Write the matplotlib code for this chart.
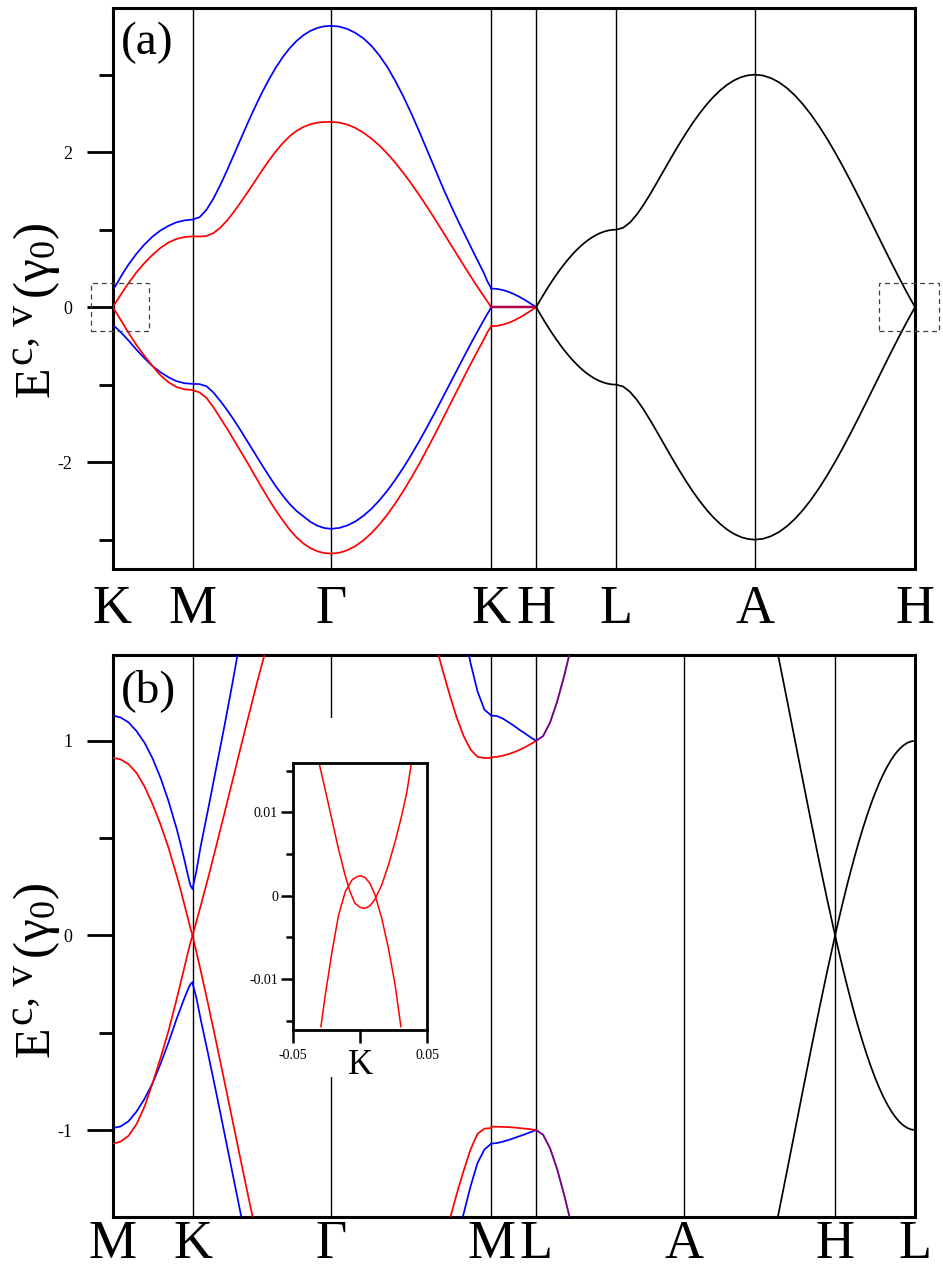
import numpy as np
import matplotlib
matplotlib.use("Agg")
import matplotlib.pyplot as plt
from matplotlib.patches import Rectangle

plt.rcParams['font.family'] = ['Liberation Serif', 'DejaVu Serif']
plt.rcParams['mathtext.fontset'] = 'custom'
plt.rcParams['mathtext.rm'] = 'Liberation Serif'
plt.rcParams['mathtext.it'] = 'Liberation Serif:italic'
plt.rcParams['axes.unicode_minus'] = False

# ---------------- high-symmetry points ----------------
labels_a = ['K', 'M', 'Γ', 'K', 'H', 'L', 'A', 'H']
pos_a = [0.0, 0.5, 1.366, 2.366, 2.646, 3.146, 4.012, 5.012]
labels_b = ['M', 'K', 'Γ', 'M', 'L', 'A', 'H', 'L']
pos_b = [0.0, 0.5, 1.366, 2.366, 2.646, 3.57, 4.513, 5.012]
len_km, len_mg, len_gk, len_kh = 0.5, 0.866, 1.0, 0.28

# ---------------- kz = 0 bands (units of gamma0) ----------------
# K -> M  (fraction from K)
u_km = [0, .025, .05, .1, .15, .2, .3, .4, .5, .6, .7, .8, .9, 1.0]
km_bu = [.24, .255, .295, .385, .47, .55, .69, .81, .91, .99, 1.05, 1.095, 1.12, 1.13]
km_ru = [0, .035, .075, .155, .235, .31, .45, .57, .675, .765, .835, .88, .905, .913]
km_bl = [-.24, -.25, -.27, -.32, -.375, -.43, -.55, -.66, -.76, -.84, -.905, -.955, -.982, -.99]
km_rl = [0, -.035, -.075, -.16, -.245, -.33, -.49, -.63, -.76, -.88, -.97, -1.03, -1.06, -1.07]

# M -> Gamma (fraction from M)
s_mg = [0, .05, .1, .15, .2, .25, .3, .35, .4, .45, .5, .55, .6, .65, .7, .75, .8, .85, .9, .95, 1.0]
mg_bu = [1.13, 1.16, 1.255, 1.4, 1.575, 1.77, 1.975, 2.18, 2.385, 2.58, 2.765, 2.935, 3.09, 3.225, 3.34, 3.435, 3.51, 3.565, 3.603, 3.624, 3.63]
mg_ru = [.913, .911, .918, .955, 1.025, 1.12, 1.235, 1.36, 1.49, 1.625, 1.76, 1.89, 2.01, 2.115, 2.205, 2.275, 2.325, 2.36, 2.38, 2.389, 2.39]
mg_bl = [-.99, -.993, -1.02, -1.1, -1.21, -1.33, -1.46, -1.6, -1.745, -1.89, -2.035, -2.175, -2.31, -2.43, -2.54, -2.63, -2.7, -2.77, -2.82, -2.85, -2.86]
mg_rl = [-1.07, -1.1, -1.17, -1.29, -1.43, -1.57, -1.72, -1.87, -2.02, -2.175, -2.33, -2.48, -2.62, -2.75, -2.87, -2.97, -3.05, -3.11, -3.15, -3.173, -3.18]

# Gamma -> K (fraction from Gamma)
t_gk = [0, .05, .1, .15, .2, .25, .3, .35, .4, .45, .5, .55, .6, .65, .7, .75, .8, .85, .9, .95, .975, 1.0]
gk_bu = [3.63, 3.62, 3.59, 3.54, 3.47, 3.375, 3.25, 3.1, 2.92, 2.72, 2.5, 2.265, 2.02, 1.775, 1.53, 1.3, 1.08, .87, .66, .455, .335, .24]
gk_ru = [2.39, 2.382, 2.356, 2.313, 2.253, 2.177, 2.087, 1.982, 1.864, 1.734, 1.594, 1.445, 1.29, 1.128, .964, .797, .63, .466, .304, .149, .074, 0]
gk_bl = [-2.86, -2.849, -2.817, -2.766, -2.694, -2.604, -2.495, -2.369, -2.228, -2.073, -1.906, -1.728, -1.542, -1.349, -1.152, -.953, -.754, -.557, -.364, -.178, -.089, 0]
gk_rl = [-3.18, -3.169, -3.137, -3.084, -3.011, -2.918, -2.806, -2.678, -2.533, -2.374, -2.202, -2.02, -1.828, -1.631, -1.428, -1.224, -1.02, -.817, -.62, -.428, -.325, -.246]

# K -> H (kz direction)
f_kh = [0, .125, .25, .375, .5, .625, .75, .875, 1.0]
kh_bu = [.24, .2354, .2217, .1995, .1697, .1333, .0918, .0468, 0]
kh_rl = [-.246, -.241, -.227, -.2045, -.174, -.1366, -.0941, -.048, 0]
kh_zero = [0, 0, 0, 0, 0, 0, 0, 0, 0]

# M -> L (kz direction)
f_ml = [0, .125, .25, .375, .5, .625, .75, .875, 1.0]
ml_bu = [1.13, 1.127, 1.115, 1.097, 1.078, 1.057, 1.038, 1.018, 1.0]
ml_ru = [.915, .918, .923, .931, .941, .953, .967, .983, 1.0]
ml_rl = [-.983, -.983, -.984, -.985, -.987, -.99, -.993, -.996, -1.0]
ml_bl = [-1.07, -1.067, -1.06, -1.052, -1.042, -1.032, -1.022, -1.011, -1.0]

# kz = pi/c plane (H-L-A), graphene-like, +/- symmetric
u20 = [0, .05, .1, .15, .2, .25, .3, .35, .4, .45, .5, .55, .6, .65, .7, .75, .8, .85, .9, .95, 1.0]
g_km = [0, .08928, .17557, .25864, .33826, .41421, .48629, .5543, .61803, .67734, .73205,
        .78202, .8271, .86716, .90211, .93185, .9563, .97538, .98904, .99726, 1.0]
g_mg = [1.0, 1.02432, 1.09351, 1.19832, 1.32813, 1.47362, 1.62753, 1.78439, 1.94009, 2.09148, 2.23607,
        2.37186, 2.49721, 2.61074, 2.7113, 2.79794, 2.86986, 2.92644, 2.9672, 2.99178, 3.0]
g_gk = [3.0, 2.98904, 2.9563, 2.90211, 2.8271, 2.73205, 2.61803, 2.48629, 2.33826, 2.17557, 2.0,
        1.81347, 1.61803, 1.41582, 1.20906, 1.0, .79094, .58418, .38197, .18652, 0.0]

# inset (near K, kz = 0)
ins_x_up = [-0.0306, -0.0264, -0.0214, -0.0164, -0.0114, -0.0077, -0.004, 0.0, 0.0035, 0.0072, 0.011, 0.016, 0.021, 0.026, 0.031, 0.0348, 0.038]
ins_e_up = [0.0158, 0.0129, 0.0093, 0.0057, 0.0025, 0.0005, -0.0009, -0.0014, -0.0015, -0.0012, -0.0004, 0.0013, 0.0037, 0.0065, 0.0097, 0.0125, 0.0158]
ins_x_dn = [-0.0294, -0.0261, -0.0211, -0.0162, -0.0112, -0.0062, -0.0025, 0.0005, 0.0035, 0.0072, 0.011, 0.016, 0.021, 0.026, 0.0303]
ins_e_dn = [-0.0157, -0.0119, -0.0067, -0.0023, 0.0005, 0.0019, 0.0023, 0.0024, 0.0022, 0.0015, 0.0001, -0.0027, -0.0063, -0.0107, -0.0157]

# y-axis title pieces: (text, fontsize, baseline shift in px, gap after in px)
ylabel_pieces = [('E', 36, 0, 1), ('c, v', 30, -16, 6), ('(γ$_{0}$)', 37, 0, 0)]

BLUE, RED, BLACK = '#0000ff', '#ff0000', 'black'
LW = 1.25

def seg(start, frac, length, sign=1.0):
    return start + sign * np.asarray(frac) * length

W, H = 943, 1281
fig = plt.figure(figsize=(W / 100, H / 100), dpi=100)

def px_axes(x0, y0, x1, y1):
    return [x0 / W, 1 - y1 / H, (x1 - x0) / W, (y1 - y0) / H]

ax_a = fig.add_axes(px_axes(112.5, 8, 915, 569.5))
ax_b = fig.add_axes(px_axes(112.5, 655, 915, 1217))

def style_main(ax, pos, labels, ylim, major, minor, xpad):
    ax.set_xlim(pos[0], pos[-1])
    ax.set_ylim(*ylim)
    for p in pos[1:-1]:
        ax.axvline(p, color='black', lw=1.0, zorder=1)
    ax.set_xticks(pos)
    ax.set_xticklabels(labels, fontsize=39)
    ax.tick_params(axis='x', length=0, pad=xpad)
    ax.set_yticks(major)
    ax.set_yticks(minor, minor=True)
    ax.tick_params(axis='y', which='major', length=19, width=2.0, direction='out', labelsize=13, pad=10)
    ax.tick_params(axis='y', which='minor', length=10, width=2.0, direction='out')
    for sp in ax.spines.values():
        sp.set_linewidth(2.2)

def composite_ylabel(x_base_px, y_center_px):
    renderer = fig.canvas.get_renderer()
    texts, lengths = [], []
    for s, fs, dx, gap in ylabel_pieces:
        t = fig.text(0, 0, s, fontsize=fs, rotation=90, rotation_mode='anchor',
                     ha='left', va='baseline')
        lengths.append(t.get_window_extent(renderer).height)
        texts.append(t)
    total = sum(lengths) + sum(p[3] for p in ylabel_pieces[:-1])
    y = y_center_px + total / 2
    for t, L, (s, fs, dx, gap) in zip(texts, lengths, ylabel_pieces):
        t.set_position(((x_base_px + dx) / W, 1 - y / H))
        y -= L + gap

# ---------------- panel (a) ----------------
ax = ax_a
for km, mg, gk, col in [(km_bu, mg_bu, gk_bu, BLUE), (km_ru, mg_ru, gk_ru, RED),
                        (km_bl, mg_bl, gk_bl, BLUE), (km_rl, mg_rl, gk_rl, RED)]:
    x = np.concatenate([seg(pos_a[0], u_km, len_km), seg(pos_a[1], s_mg, len_mg), seg(pos_a[2], t_gk, len_gk)])
    y = np.concatenate([km, mg, gk])
    ax.plot(x, y, color=col, lw=LW, zorder=3)
xkh = seg(pos_a[3], f_kh, len_kh)
ax.plot(xkh, kh_bu, color=BLUE, lw=LW, zorder=3)
ax.plot(xkh, kh_rl, color=RED, lw=LW, zorder=3)
ax.plot(xkh, kh_zero, color=BLUE, lw=LW + 0.4, zorder=3)
ax.plot(xkh, kh_zero, color=RED, lw=LW + 0.4, alpha=0.75, zorder=3)
for sgn in (1, -1):
    x = np.concatenate([seg(pos_a[4], u20, len_km), seg(pos_a[5], u20, len_mg), seg(pos_a[6], u20, len_gk)])
    y = sgn * np.concatenate([g_km, g_mg, g_gk])
    ax.plot(x, y, color=BLACK, lw=LW, zorder=3)
style_main(ax, pos_a, labels_a, (-3.385, 3.86), [-2, 0, 2], [-3, -1, 1, 3], 11)
for x0, x1 in [(-0.136, 0.228), (4.785, 5.16)]:
    ax.add_patch(Rectangle((x0, -0.31), x1 - x0, 0.62, fill=False, ls=(0, (4, 3)),
                           lw=0.9, edgecolor='0.25', clip_on=False, zorder=4))
ax.text(0.01, 0.975, '(a)', transform=ax.transAxes, fontsize=34, ha='left', va='top')

# ---------------- panel (b) ----------------
ax = ax_b
xmk = seg(pos_b[1], u_km, len_km, -1)
ax.plot(xmk, km_bu, color=BLUE, lw=LW, zorder=3)
ax.plot(xmk, km_ru, color=RED, lw=LW, zorder=3)
ax.plot(xmk, km_bl, color=BLUE, lw=LW, zorder=3)
ax.plot(xmk, km_rl, color=RED, lw=LW, zorder=3)
xkg = seg(pos_b[1] + len_gk, t_gk, len_gk, -1)
ax.plot(xkg, gk_bu, color=BLUE, lw=LW, zorder=3)
ax.plot(xkg, gk_ru, color=RED, lw=LW, zorder=3)
ax.plot(xkg, gk_bl, color=RED, lw=LW, zorder=3)
ax.plot(xkg, gk_rl, color=BLUE, lw=LW, zorder=3)
xgm = seg(pos_b[3], s_mg, len_mg, -1)
ax.plot(xgm, mg_bu, color=BLUE, lw=LW, zorder=3)
ax.plot(xgm, mg_ru, color=RED, lw=LW, zorder=3)
ax.plot(xgm, mg_bl, color=RED, lw=LW, zorder=3)
ax.plot(xgm, mg_rl, color=BLUE, lw=LW, zorder=3)
xml = seg(pos_b[3], f_ml, len_kh)
ax.plot(xml, ml_bu, color=BLUE, lw=LW, zorder=3)
ax.plot(xml, ml_ru, color=RED, lw=LW, zorder=3)
ax.plot(xml, ml_bl, color=BLUE, lw=LW, zorder=3)
ax.plot(xml, ml_rl, color=RED, lw=LW, zorder=3)
xla = seg(pos_b[4], u20, len_mg)
for sgn in (1, -1):
    ax.plot(xla, sgn * np.asarray(g_mg), color=BLUE, lw=LW, zorder=3)
    ax.plot(xla, sgn * np.asarray(g_mg), color=RED, lw=LW, alpha=0.5, zorder=3)
xah = seg(pos_b[6] - len_gk, u20, len_gk)
xhl = seg(pos_b[6], u20, len_km)
for sgn in (1, -1):
    ax.plot(xah, sgn * np.asarray(g_gk), color=BLACK, lw=LW, zorder=3)
    ax.plot(xhl, sgn * np.asarray(g_km), color=BLACK, lw=LW, zorder=3)
style_main(ax, pos_b, labels_b, (-1.447, 1.441), [-1, 0, 1], [-0.5, 0.5], 2)
ax.text(0.01, 0.975, '(b)', transform=ax.transAxes, fontsize=34, ha='left', va='top')

fig.add_artist(Rectangle((250 / W, 1 - 1077 / H), 197 / W, 359 / H, transform=fig.transFigure,
                         facecolor='white', edgecolor='none', zorder=1))

# ---------------- inset ----------------
axi = fig.add_axes(px_axes(293.3, 763.3, 427.3, 1030))
axi.set_zorder(2)
axi.plot(ins_x_up, ins_e_up, color=RED, lw=1.1)
axi.plot(ins_x_dn, ins_e_dn, color=RED, lw=1.1)
axi.set_xlim(-0.05, 0.05)
axi.set_ylim(-0.0161, 0.0159)
axi.set_xticks([-0.05, 0, 0.05])
axi.set_xticklabels(['-0.05', 'K', '0.05'])
axi.set_yticks([-0.01, 0, 0.01])
axi.set_yticklabels(['-0.01', '0', '0.01'])
axi.set_yticks([-0.015, -0.005, 0.005, 0.015], minor=True)
axi.tick_params(axis='both', which='major', length=9, width=1.8, direction='out', labelsize=10, pad=2)
axi.tick_params(axis='y', which='minor', length=5, width=1.8, direction='out')
axi.tick_params(axis='x', pad=5)
axi.get_xticklabels()[1].set_fontsize(25)
for sp in axi.spines.values():
    sp.set_linewidth(2.0)

# y-axis titles
composite_ylabel(49, 310)
composite_ylabel(49, 970)

fig.savefig('out.png', dpi=100)
